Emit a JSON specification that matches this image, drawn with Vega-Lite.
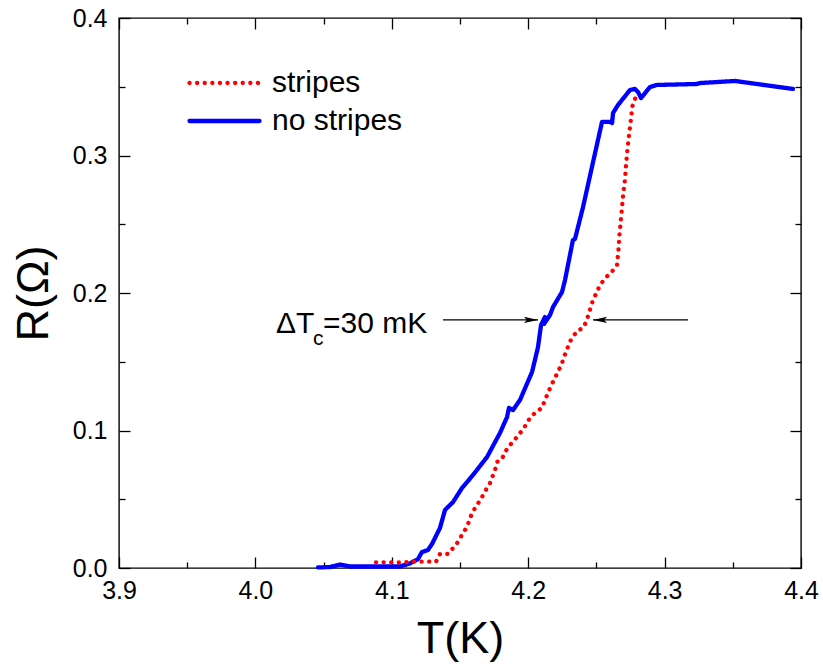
{
  "$schema": "https://vega.github.io/schema/vega-lite/v6.json",
  "width": 682,
  "height": 550,
  "autosize": "none",
  "padding": {"left": 119, "top": 18, "right": 22, "bottom": 102},
  "background": "white",
  "config": {
    "view": {"stroke": "black", "strokeWidth": 1.4},
    "font": "Liberation Sans",
    "axis": {
      "grid": false,
      "domain": false,
      "tickColor": "black",
      "tickWidth": 1.3,
      "labelFont": "Liberation Sans",
      "labelFontSize": 25,
      "labelColor": "black",
      "titleFont": "Liberation Sans",
      "titleFontSize": 45,
      "titleFontWeight": "normal",
      "titleColor": "black",
      "labelFlush": false,
      "labelOverlap": false
    }
  },
  "datasets": {
    "curves": [
      {"series": "no stripes", "i": 1, "T": 4.0459, "R": 0.0004},
      {"series": "no stripes", "i": 2, "T": 4.0547, "R": 0.0007},
      {"series": "no stripes", "i": 3, "T": 4.0620, "R": 0.0025},
      {"series": "no stripes", "i": 4, "T": 4.0694, "R": 0.0011},
      {"series": "no stripes", "i": 5, "T": 4.1060, "R": 0.0011},
      {"series": "no stripes", "i": 6, "T": 4.1133, "R": 0.0033},
      {"series": "no stripes", "i": 7, "T": 4.1192, "R": 0.0065},
      {"series": "no stripes", "i": 8, "T": 4.1221, "R": 0.0116},
      {"series": "no stripes", "i": 9, "T": 4.1265, "R": 0.0131},
      {"series": "no stripes", "i": 10, "T": 4.1295, "R": 0.0175},
      {"series": "no stripes", "i": 11, "T": 4.1324, "R": 0.0233},
      {"series": "no stripes", "i": 12, "T": 4.1353, "R": 0.0291},
      {"series": "no stripes", "i": 13, "T": 4.1390, "R": 0.0422},
      {"series": "no stripes", "i": 14, "T": 4.1449, "R": 0.0480},
      {"series": "no stripes", "i": 15, "T": 4.1515, "R": 0.0582},
      {"series": "no stripes", "i": 16, "T": 4.1595, "R": 0.0676},
      {"series": "no stripes", "i": 17, "T": 4.1698, "R": 0.0807},
      {"series": "no stripes", "i": 18, "T": 4.1793, "R": 0.0982},
      {"series": "no stripes", "i": 19, "T": 4.1845, "R": 0.1098},
      {"series": "no stripes", "i": 20, "T": 4.1859, "R": 0.1164},
      {"series": "no stripes", "i": 21, "T": 4.1889, "R": 0.1149},
      {"series": "no stripes", "i": 22, "T": 4.1940, "R": 0.1222},
      {"series": "no stripes", "i": 23, "T": 4.2028, "R": 0.1425},
      {"series": "no stripes", "i": 24, "T": 4.2072, "R": 0.1607},
      {"series": "no stripes", "i": 25, "T": 4.2094, "R": 0.1767},
      {"series": "no stripes", "i": 26, "T": 4.2123, "R": 0.1825},
      {"series": "no stripes", "i": 27, "T": 4.2116, "R": 0.1775},
      {"series": "no stripes", "i": 28, "T": 4.2160, "R": 0.1840},
      {"series": "no stripes", "i": 29, "T": 4.2182, "R": 0.1898},
      {"series": "no stripes", "i": 30, "T": 4.2248, "R": 0.2007},
      {"series": "no stripes", "i": 31, "T": 4.2270, "R": 0.2095},
      {"series": "no stripes", "i": 32, "T": 4.2328, "R": 0.2385},
      {"series": "no stripes", "i": 33, "T": 4.2343, "R": 0.2393},
      {"series": "no stripes", "i": 34, "T": 4.2402, "R": 0.2625},
      {"series": "no stripes", "i": 35, "T": 4.2541, "R": 0.3244},
      {"series": "no stripes", "i": 36, "T": 4.2600, "R": 0.3244},
      {"series": "no stripes", "i": 37, "T": 4.2615, "R": 0.3236},
      {"series": "no stripes", "i": 38, "T": 4.2622, "R": 0.3309},
      {"series": "no stripes", "i": 39, "T": 4.2658, "R": 0.3367},
      {"series": "no stripes", "i": 40, "T": 4.2746, "R": 0.3476},
      {"series": "no stripes", "i": 41, "T": 4.2783, "R": 0.3484},
      {"series": "no stripes", "i": 42, "T": 4.2805, "R": 0.3462},
      {"series": "no stripes", "i": 43, "T": 4.2827, "R": 0.3418},
      {"series": "no stripes", "i": 44, "T": 4.2893, "R": 0.3498},
      {"series": "no stripes", "i": 45, "T": 4.2944, "R": 0.3513},
      {"series": "no stripes", "i": 46, "T": 4.3237, "R": 0.3520},
      {"series": "no stripes", "i": 47, "T": 4.3260, "R": 0.3527},
      {"series": "no stripes", "i": 48, "T": 4.3516, "R": 0.3542},
      {"series": "no stripes", "i": 49, "T": 4.3941, "R": 0.3484},
      {"series": "stripes", "i": 1, "T": 4.0884, "R": 0.0041},
      {"series": "stripes", "i": 2, "T": 4.0957, "R": 0.0041},
      {"series": "stripes", "i": 3, "T": 4.1060, "R": 0.0040},
      {"series": "stripes", "i": 4, "T": 4.1170, "R": 0.0046},
      {"series": "stripes", "i": 5, "T": 4.1324, "R": 0.0046},
      {"series": "stripes", "i": 6, "T": 4.1353, "R": 0.0102},
      {"series": "stripes", "i": 7, "T": 4.1412, "R": 0.0102},
      {"series": "stripes", "i": 8, "T": 4.1449, "R": 0.0145},
      {"series": "stripes", "i": 9, "T": 4.1485, "R": 0.0189},
      {"series": "stripes", "i": 10, "T": 4.1522, "R": 0.0255},
      {"series": "stripes", "i": 11, "T": 4.1551, "R": 0.0298},
      {"series": "stripes", "i": 12, "T": 4.1588, "R": 0.0400},
      {"series": "stripes", "i": 13, "T": 4.1625, "R": 0.0458},
      {"series": "stripes", "i": 14, "T": 4.1661, "R": 0.0516},
      {"series": "stripes", "i": 15, "T": 4.1698, "R": 0.0582},
      {"series": "stripes", "i": 16, "T": 4.1720, "R": 0.0618},
      {"series": "stripes", "i": 17, "T": 4.1757, "R": 0.0713},
      {"series": "stripes", "i": 18, "T": 4.1771, "R": 0.0771},
      {"series": "stripes", "i": 19, "T": 4.1808, "R": 0.0793},
      {"series": "stripes", "i": 20, "T": 4.1830, "R": 0.0844},
      {"series": "stripes", "i": 21, "T": 4.1867, "R": 0.0895},
      {"series": "stripes", "i": 22, "T": 4.1911, "R": 0.0945},
      {"series": "stripes", "i": 23, "T": 4.1969, "R": 0.1018},
      {"series": "stripes", "i": 24, "T": 4.2013, "R": 0.1091},
      {"series": "stripes", "i": 25, "T": 4.2057, "R": 0.1135},
      {"series": "stripes", "i": 26, "T": 4.2101, "R": 0.1164},
      {"series": "stripes", "i": 27, "T": 4.2123, "R": 0.1222},
      {"series": "stripes", "i": 28, "T": 4.2167, "R": 0.1324},
      {"series": "stripes", "i": 29, "T": 4.2196, "R": 0.1382},
      {"series": "stripes", "i": 30, "T": 4.2218, "R": 0.1425},
      {"series": "stripes", "i": 31, "T": 4.2248, "R": 0.1491},
      {"series": "stripes", "i": 32, "T": 4.2262, "R": 0.1535},
      {"series": "stripes", "i": 33, "T": 4.2284, "R": 0.1585},
      {"series": "stripes", "i": 34, "T": 4.2299, "R": 0.1636},
      {"series": "stripes", "i": 35, "T": 4.2328, "R": 0.1680},
      {"series": "stripes", "i": 36, "T": 4.2358, "R": 0.1724},
      {"series": "stripes", "i": 37, "T": 4.2402, "R": 0.1745},
      {"series": "stripes", "i": 38, "T": 4.2424, "R": 0.1789},
      {"series": "stripes", "i": 39, "T": 4.2446, "R": 0.1855},
      {"series": "stripes", "i": 40, "T": 4.2475, "R": 0.1949},
      {"series": "stripes", "i": 41, "T": 4.2504, "R": 0.2007},
      {"series": "stripes", "i": 42, "T": 4.2526, "R": 0.2058},
      {"series": "stripes", "i": 43, "T": 4.2570, "R": 0.2113},
      {"series": "stripes", "i": 44, "T": 4.2614, "R": 0.2156},
      {"series": "stripes", "i": 45, "T": 4.2651, "R": 0.2204},
      {"series": "stripes", "i": 46, "T": 4.2661, "R": 0.2302},
      {"series": "stripes", "i": 47, "T": 4.2668, "R": 0.2409},
      {"series": "stripes", "i": 48, "T": 4.2678, "R": 0.2519},
      {"series": "stripes", "i": 49, "T": 4.2688, "R": 0.2623},
      {"series": "stripes", "i": 50, "T": 4.2697, "R": 0.2725},
      {"series": "stripes", "i": 51, "T": 4.2710, "R": 0.2827},
      {"series": "stripes", "i": 52, "T": 4.2717, "R": 0.2931},
      {"series": "stripes", "i": 53, "T": 4.2727, "R": 0.3040},
      {"series": "stripes", "i": 54, "T": 4.2739, "R": 0.3149},
      {"series": "stripes", "i": 55, "T": 4.2751, "R": 0.3246},
      {"series": "stripes", "i": 56, "T": 4.2763, "R": 0.3355},
      {"series": "stripes", "i": 57, "T": 4.2785, "R": 0.3416},
      {"series": "stripes", "i": 58, "T": 4.2807, "R": 0.3457}
    ],
    "arrows": [
      {"T1": 4.1375, "T2": 4.2072, "R": 0.1804, "dir": "right", "tip": 4.2072},
      {"T1": 4.2475, "T2": 4.3172, "R": 0.1804, "dir": "left", "tip": 4.2475}
    ],
    "bigText": [
      {"T": 4.0151, "R": 0.1709, "text": "ΔT"},
      {"T": 4.0496, "R": 0.1709, "text": "=30 mK"}
    ],
    "subText": [
      {"T": 4.0422, "R": 0.1622, "text": "c"}
    ]
  },
  "resolve": {"axis": {"x": "independent", "y": "independent"}},
  "layer": [
    {
      "data": {"name": "curves"},
      "mark": {"type": "line", "opacity": 0},
      "encoding": {
        "x": {"field": "T", "type": "quantitative", "scale": {"domain": [3.9, 4.4], "nice": false, "zero": false},
          "axis": {"orient": "top", "title": null, "labels": false,
            "values": [3.9, 3.95, 4.0, 4.05, 4.1, 4.15, 4.2, 4.25, 4.3, 4.35, 4.4],
            "tickSize": {"condition": {"test": "abs(datum.value*10-round(datum.value*10))<0.001", "value": -11}, "value": -6}}},
        "y": {"field": "R", "type": "quantitative", "scale": {"domain": [0, 0.4], "nice": false},
          "axis": {"orient": "right", "title": null, "labels": false,
            "values": [0, 0.05, 0.1, 0.15, 0.2, 0.25, 0.3, 0.35, 0.4],
            "tickSize": {"condition": {"test": "abs(datum.value*10-round(datum.value*10))<0.001", "value": -11}, "value": -6}}},
        "detail": {"field": "series"}
      }
    },
    {
      "data": {"name": "curves"},
      "mark": {"type": "line", "strokeWidth": 4.3, "strokeCap": "round", "strokeJoin": "round"},
      "encoding": {
        "x": {"field": "T", "type": "quantitative",
          "axis": {"orient": "bottom", "title": "T(K)", "titlePadding": 8,
            "values": [3.9, 3.95, 4.0, 4.05, 4.1, 4.15, 4.2, 4.25, 4.3, 4.35, 4.4],
            "labelExpr": "abs(datum.value*10-round(datum.value*10))<0.001 ? format(datum.value,'.1f') : ''",
            "labelPadding": 21,
            "tickSize": {"condition": {"test": "abs(datum.value*10-round(datum.value*10))<0.001", "value": -11}, "value": -6}}},
        "y": {"field": "R", "type": "quantitative",
          "axis": {"orient": "left", "title": "R(Ω)", "titlePadding": 16,
            "values": [0, 0.05, 0.1, 0.15, 0.2, 0.25, 0.3, 0.35, 0.4],
            "labelExpr": "abs(datum.value*10-round(datum.value*10))<0.001 ? format(datum.value,'.1f') : ''",
            "labelPadding": 23,
            "tickSize": {"condition": {"test": "abs(datum.value*10-round(datum.value*10))<0.001", "value": -11}, "value": -6}}},
        "order": {"field": "i", "type": "quantitative"},
        "color": {"field": "series", "type": "nominal",
          "scale": {"domain": ["stripes", "no stripes"], "range": ["#ff0000", "#0000ff"]},
          "legend": {"orient": "none", "legendX": 68, "legendY": 46, "title": null, "symbolType": "stroke", "symbolSize": 4900, "symbolStrokeWidth": 4.3, "labelFontSize": 30, "labelFont": "Liberation Sans", "labelColor": "black", "clipHeight": 38, "rowPadding": 0, "padding": 0, "labelOffset": 10,
            "encode": {"symbols": {"update": {"strokeCap": {"value": "round"}}}}}},
        "strokeDash": {"field": "series", "type": "nominal",
          "scale": {"domain": ["stripes", "no stripes"], "range": [[0.1, 7.5], [1, 0]]},
          "legend": {"orient": "none", "legendX": 68, "legendY": 46, "title": null, "symbolType": "stroke", "symbolSize": 4900, "symbolStrokeWidth": 4.3, "labelFontSize": 30, "labelFont": "Liberation Sans", "labelColor": "black", "clipHeight": 38, "rowPadding": 0, "padding": 0, "labelOffset": 10,
            "encode": {"symbols": {"update": {"strokeCap": {"value": "round"}}}}}}
      }
    },
    {
      "data": {"name": "arrows"},
      "mark": {"type": "rule", "color": "black", "strokeWidth": 1.2},
      "encoding": {
        "x": {"field": "T1", "type": "quantitative", "axis": null},
        "x2": {"field": "T2"},
        "y": {"field": "R", "type": "quantitative", "axis": null}
      }
    },
    {
      "data": {"name": "arrows"},
      "mark": {"type": "point", "filled": true, "color": "black", "opacity": 1, "size": 196},
      "encoding": {
        "x": {"field": "tip", "type": "quantitative", "axis": null},
        "y": {"field": "R", "type": "quantitative", "axis": null},
        "shape": {"field": "dir", "type": "nominal", "legend": null,
          "scale": {"domain": ["right", "left"], "range": ["M0,0L-2,-0.45L-1.6,0L-2,0.45Z", "M0,0L2,-0.45L1.6,0L2,0.45Z"]}}
      }
    },
    {
      "data": {"name": "bigText"},
      "mark": {"type": "text", "align": "left", "baseline": "alphabetic", "fontSize": 30, "font": "Liberation Sans", "color": "black"},
      "encoding": {
        "x": {"field": "T", "type": "quantitative", "axis": null},
        "y": {"field": "R", "type": "quantitative", "axis": null},
        "text": {"field": "text"}
      }
    },
    {
      "data": {"name": "subText"},
      "mark": {"type": "text", "align": "left", "baseline": "alphabetic", "fontSize": 21, "font": "Liberation Sans", "color": "black"},
      "encoding": {
        "x": {"field": "T", "type": "quantitative", "axis": null},
        "y": {"field": "R", "type": "quantitative", "axis": null},
        "text": {"field": "text"}
      }
    }
  ]
}
